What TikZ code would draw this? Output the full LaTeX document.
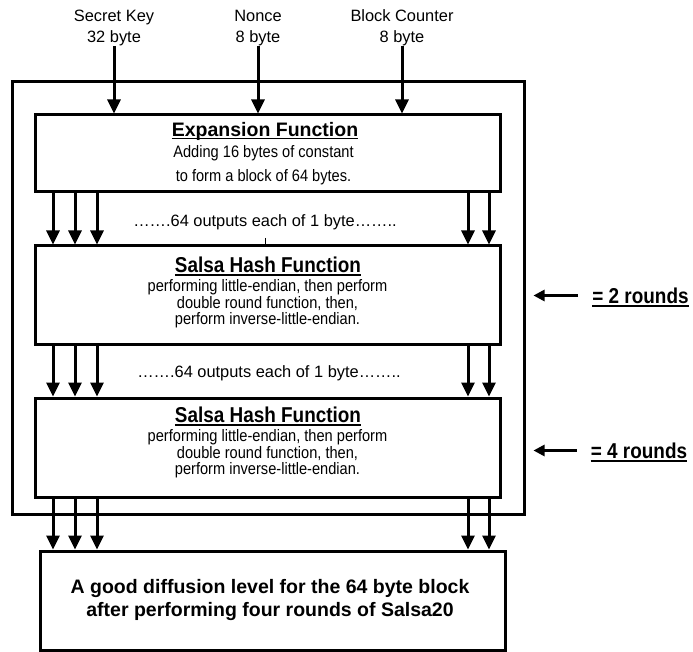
\documentclass[tikz,border=0pt]{standalone}
\usepackage{fontspec}
\usepackage{graphicx}
\setmainfont{Liberation Sans}
\usetikzlibrary{arrows.meta}
\newcommand{\condtxt}[1]{\scalebox{0.88}[1]{#1}}
\begin{document}
\begin{tikzpicture}[x=1pt,y=-1pt,
  box/.style={draw,line width=3pt,inner sep=0pt},
  arr/.style={line width=3pt,-{Triangle[width=13pt,length=14pt]}},
  title/.style={inner sep=0pt,font=\fontsize{19.5}{23}\selectfont\bfseries},
  ctitle/.style={inner sep=0pt,font=\fontsize{21.5}{23}\selectfont\bfseries},
  body/.style={inner sep=0pt,font=\fontsize{16.6}{17}\selectfont},
  lbl/.style={inner sep=0pt,align=center,font=\fontsize{16.4}{21}\selectfont},
  ulin/.style={line width=1.7pt},
  rarr/.style={line width=2.6pt,-{Triangle[width=11pt,length=11pt]}}]
\useasboundingbox (0,0) rectangle (693,652);
% boxes
\node[box,minimum width=512pt,minimum height=432pt] (outer) at (268,298) {};
\node[box,minimum width=465pt,minimum height=77pt] (exp) at (267.5,153.5) {};
\node[box,minimum width=465pt,minimum height=98pt] (s1) at (267.5,295) {};
\node[box,minimum width=465pt,minimum height=99pt] (s2) at (267.5,447.5) {};
\node[box,minimum width=465pt,minimum height=99pt] (out) at (272.5,600.5) {};
% top labels
\node[lbl] (sk) at (114,28) {Secret Key\\32 byte};
\node[lbl] (nc) at (258,28) {Nonce\\8 byte};
\node[lbl] (bc) at (402,28) {Block Counter\\8 byte};
\draw[arr] (sk.south) -- (sk.south |- exp.north);
\draw[arr] (nc.south) -- (nc.south |- exp.north);
\draw[arr] (bc.south) -- (bc.south |- exp.north);
% expansion text
\node[title] (expt) at (265,131) {Expansion Function};
\draw[ulin] ([yshift=-2.5pt]expt.base west) -- ([yshift=-2.5pt]expt.base east);
\node[body] (e1) at (263.5,153) {\condtxt{Adding 16 bytes of constant}};
\node[body] (e2) at (263.5,177) {\condtxt{to form a block of 64 bytes.}};
% salsa 1 text
\node[ctitle] (s1t) at (268,264.5) {\condtxt{Salsa Hash Function}};
\draw[ulin] ([yshift=-2.5pt]s1t.base west) -- ([yshift=-2.5pt]s1t.base east);
\node[body] (s1a) at (267.5,287) {\condtxt{performing little-endian, then perform}};
\node[body] (s1b) at (267.5,303.5) {\condtxt{double round function, then,}};
\node[body] (s1c) at (267.5,320.5) {\condtxt{perform inverse-little-endian.}};
% salsa 2 text
\node[ctitle] (s2t) at (268,414.5) {\condtxt{Salsa Hash Function}};
\draw[ulin] ([yshift=-2.5pt]s2t.base west) -- ([yshift=-2.5pt]s2t.base east);
\node[body] (s2a) at (267.5,437) {\condtxt{performing little-endian, then perform}};
\node[body] (s2b) at (267.5,453.5) {\condtxt{double round function, then,}};
\node[body] (s2c) at (267.5,470.5) {\condtxt{perform inverse-little-endian.}};
% output text
\node[title,align=center] (outt) at (270,600) {A good diffusion level for the 64 byte block\\after performing four rounds of Salsa20};
% dots lines
\node[lbl] (d1) at (265,222) {…….64 outputs each of 1 byte……..};
\node[lbl] (d2) at (269,373) {…….64 outputs each of 1 byte……..};
\coordinate (stub) at (265,238);
\draw[line width=1pt] (stub) -- (stub |- s1.north);
% internal arrows
\coordinate (a1) at (53,0);
\coordinate (a2) at (75,0);
\coordinate (a3) at (97,0);
\coordinate (a4) at (468,0);
\coordinate (a5) at (489,0);
\foreach \c in {a1,a2,a3,a4,a5}{
  \draw[arr] (\c |- exp.south) -- (\c |- s1.north);
  \draw[arr] (\c |- s1.south) -- (\c |- s2.north);
  \draw[arr] (\c |- s2.south) -- (\c |- out.north);
}
% rounds
\node[ctitle] (r2) at (640.5,295.5) {\condtxt{= 2 rounds}};
\draw[ulin] ([yshift=-2.5pt]r2.base west) -- ([yshift=-2.5pt]r2.base east);
\draw[rarr] ([xshift=-14pt]r2.west) -- ([xshift=8pt]outer.east |- r2.west);
\node[ctitle] (r4) at (639,450.5) {\condtxt{= 4 rounds}};
\draw[ulin] ([yshift=-2.5pt]r4.base west) -- ([yshift=-2.5pt]r4.base east);
\draw[rarr] ([xshift=-14pt]r4.west) -- ([xshift=8pt]outer.east |- r4.west);
\end{tikzpicture}
\end{document}
